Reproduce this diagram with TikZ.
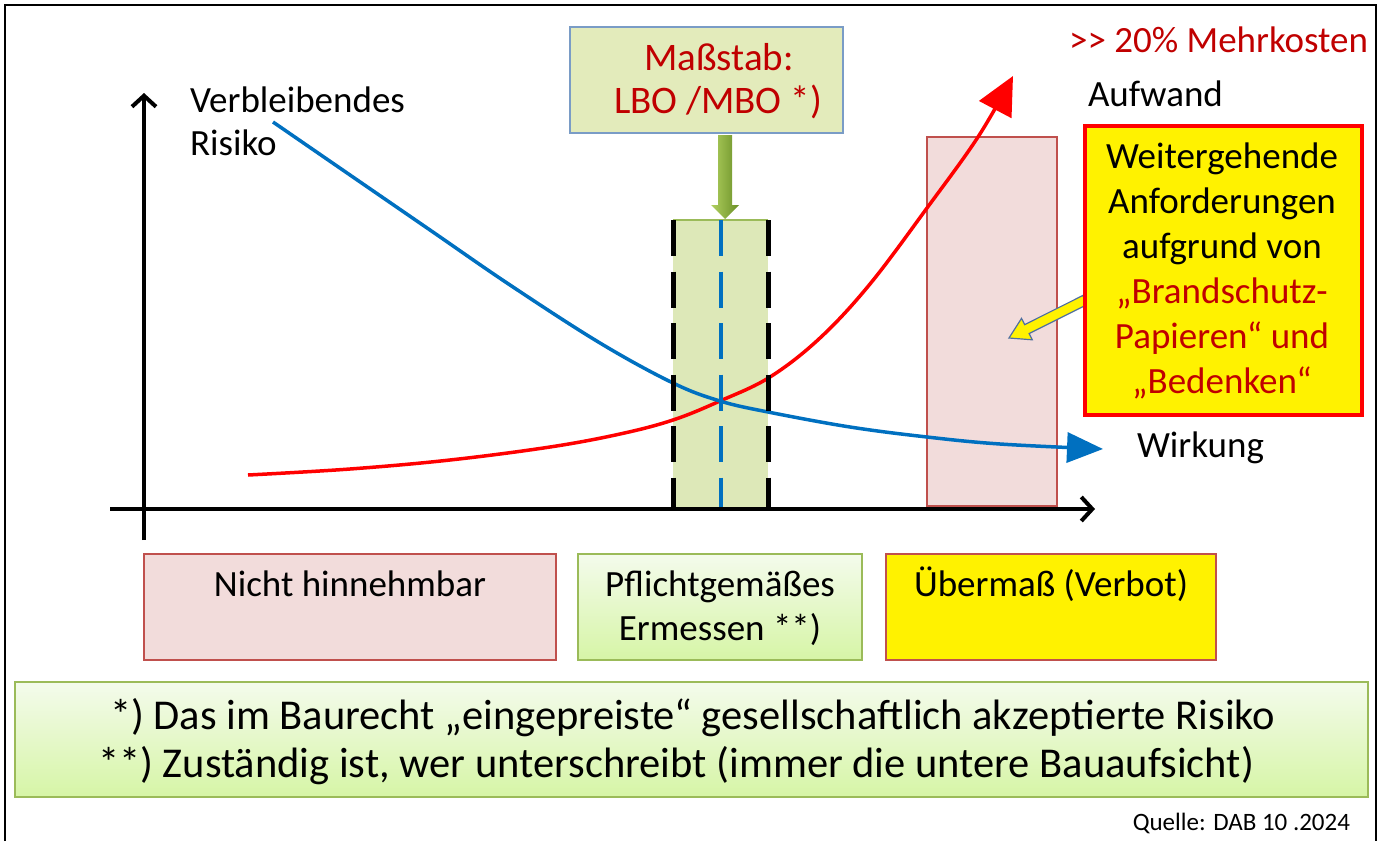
\documentclass[tikz,border=0pt]{standalone}
\usepackage{fontspec}
\setmainfont{Carlito}
\usetikzlibrary{arrows.meta}
\definecolor{darkred}{HTML}{C00000}
\definecolor{pinkfill}{HTML}{F2DCDB}
\definecolor{pinkline}{HTML}{C0504D}
\definecolor{oliveline}{HTML}{9BBB59}
\definecolor{mfill}{HTML}{E3EBBB}
\definecolor{mline}{HTML}{7A9CC6}
\definecolor{dfill}{HTML}{DDE8B8}
\definecolor{bluec}{HTML}{0070C0}
\definecolor{gtop}{HTML}{F4FBEC}
\definecolor{gbot}{HTML}{D6F5A6}
\definecolor{arrowL}{HTML}{B0D060}
\definecolor{arrowR}{HTML}{6A8F26}
\definecolor{yarrowline}{HTML}{4F6FA0}
\begin{document}
\begin{tikzpicture}[x=1pt,y=-1pt,
  every node/.style={inner sep=0pt,outer sep=0pt},
  txt/.style={font=\fontsize{37}{44}\selectfont},
  bigtxt/.style={font=\fontsize{39}{44}\selectfont},
  foot/.style={font=\fontsize{42.5}{48}\selectfont},
  small/.style={font=\fontsize{25}{30}\selectfont},
  rbox/.style={anchor=north west,line width=1.5pt},
  axisline/.style={line width=4pt,-{Straight Barb[length=11pt,width=24pt]}},
  curve/.style={line width=3.5pt},
  blackdash/.style={line width=5pt,dash pattern=on 36pt off 15.5pt},
  bluedash/.style={bluec,line width=4pt,dash pattern=on 36pt off 15.5pt}]
\useasboundingbox (0,0) rectangle (1386,841);
% frame
\draw[line width=1.5pt] (5,841) -- (5,5) -- (1376,5) -- (1376,841);
% tall pink box
\node[rbox,draw=pinkline,fill=pinkfill,line width=2pt,minimum width=130pt,minimum height=369pt] (ubox) at (927,137) {};
% dashed green region
\node[rbox,fill=dfill,minimum width=95pt,minimum height=289pt] (dbox) at (673,220) {};
\draw[oliveline,line width=1.5pt] (dbox.north west) -- (dbox.north east);
% curves
\draw[curve,red,-{Triangle[length=38pt,width=36pt]}] plot[smooth,tension=0.6] coordinates {(248,475) (350,469) (450,460) (550,447) (620,434) (673,420) (720,401) (770,377) (820,338) (870,284) (927,208) (978,137) (1013,76)};
\draw[curve,bluec,-{Triangle[length=36pt,width=30pt]}] plot[smooth,tension=0.6] coordinates {(273,122) (350,175) (430,230) (510,285) (600,343) (673,383) (720,401) (768,412) (850,427) (927,437) (1000,444) (1103,449)};
% dashed lines
\draw[blackdash] (dbox.north west) -- (dbox.south west);
\draw[blackdash] (dbox.north east) -- (dbox.south east);
\draw[bluedash] (dbox.north) -- (dbox.south);
% axes
\coordinate (ybot) at (144,540);
\coordinate (ytop) at (144,93);
\coordinate (xl) at (110,509);
\coordinate (xr) at (1095,509);
\draw[axisline] (ybot) -- (ytop);
\draw[axisline] (xl) -- (xr);
% Massstab box
\node[rbox,draw=mline,fill=mfill,line width=1.5pt,minimum width=273pt,minimum height=106pt] (mbox) at (570,27) {};
\node[bigtxt,text=darkred,anchor=base] (m1) at (719,70) {Maßstab:};
\node[bigtxt,text=darkred,anchor=base] (m2) at (718,113) {LBO /MBO *)};
% green block arrow
\shade[left color=arrowL,right color=arrowR] (718,135) -- (732,135) -- (732,205) -- (739,205) -- (725,219) -- (711,205) -- (718,205) -- cycle;
% yellow arrow
\draw[yarrowline,fill=yellow,line width=1.2pt] (1087.2,304.5) -- (1029.1,333.6) -- (1032.3,339.8) -- (1009,338) -- (1021.5,318.4) -- (1024.7,324.6) -- (1082.8,295.5) -- cycle;
% yellow box
\node[rbox,draw=red,fill=yellow,line width=4pt,minimum width=277pt,minimum height=289pt] (ybox) at (1085,126) {};
\node[txt,anchor=base] (y1) at (1222,168) {Weitergehende};
\node[txt,anchor=base] (y2) at (1222,213) {Anforderungen};
\node[txt,anchor=base] (y3) at (1222,258) {aufgrund von};
\node[txt,text=darkred,anchor=base] (y4) at (1222,303) {„Brandschutz-};
\node[txt,text=darkred,anchor=base] (y5) at (1222,348) {Papieren“ und};
\node[txt,text=darkred,anchor=base] (y6) at (1222,393) {„Bedenken“};
% labels
\node[txt,text=darkred,anchor=base east] (mk) at (1368,52) {>{}> 20\% Mehrkosten};
\node[txt,anchor=base west] (auf) at (1088,106) {Aufwand};
\node[txt,anchor=base west] (vr1) at (190,112) {Verbleibendes};
\node[txt,anchor=base west] (vr2) at (190,155) {Risiko};
\node[txt,anchor=base west] (wk) at (1137,457) {Wirkung};
% lower boxes
\node[rbox,draw=pinkline,fill=pinkfill,minimum width=412pt,minimum height=106pt] (b1) at (144,554) {};
\node[rbox,draw=oliveline,top color=gtop,bottom color=gbot,minimum width=284pt,minimum height=106pt] (b2) at (578,554) {};
\node[rbox,draw=pinkline,fill=yellow,minimum width=330pt,minimum height=106pt] (b3) at (886,554) {};
\node[txt,anchor=base] (t1) at (350,596) {Nicht hinnehmbar};
\node[txt,anchor=base] (t2a) at (720,596) {Pflichtgemäßes};
\node[txt,anchor=base] (t2b) at (720,640) {Ermessen **)};
\node[txt,anchor=base] (t3) at (1051,596) {Übermaß (Verbot)};
% footnote box
\node[rbox,draw=oliveline,top color=gtop,bottom color=gbot,minimum width=1353pt,minimum height=115pt] (fbox) at (15,682) {};
\node[foot,anchor=base west] (f1) at (110,729) {*) Das im Baurecht „eingepreiste“ gesellschaftlich akzeptierte Risiko};
\node[foot,anchor=base west] (f2) at (98,777) {**) Zuständig ist, wer unterschreibt (immer die untere Bauaufsicht)};
\node[small,anchor=base east] (q) at (1350,830) {Quelle: DAB 10 .2024};
\end{tikzpicture}
\end{document}
